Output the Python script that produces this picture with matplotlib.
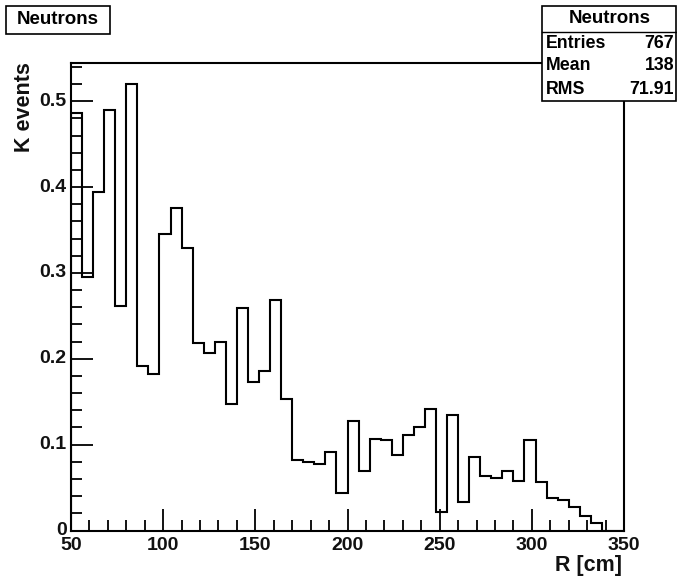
import numpy as np
import matplotlib
matplotlib.use("Agg")
import matplotlib.pyplot as plt
from matplotlib.patches import Rectangle
from matplotlib.ticker import MultipleLocator

plt.rcParams['font.family'] = ['Liberation Sans', 'DejaVu Sans']
plt.rcParams['font.weight'] = 'bold'

# histogram of neutron radius, 50 bins of 6 cm from 50 to 350
bin_edges = np.arange(50, 351, 6)
k_events = [0.486, 0.2955, 0.3946, 0.490, 0.261, 0.520, 0.192, 0.182, 0.345, 0.376,
            0.329, 0.219, 0.207, 0.220, 0.147, 0.259, 0.173, 0.186, 0.268, 0.153,
            0.082, 0.080, 0.077, 0.091, 0.0435, 0.128, 0.0695, 0.107, 0.105, 0.088,
            0.111, 0.120, 0.141, 0.022, 0.134, 0.033, 0.086, 0.0636, 0.061, 0.0694,
            0.058, 0.1056, 0.056, 0.0376, 0.0356, 0.027, 0.0173, 0.0084, 0.0, 0.0]

hist_title = "Neutrons"
stat_names = ["Entries", "Mean", "RMS"]
stat_values = ["767", "138", "71.91"]

W, H = 677, 579
fig = plt.figure(figsize=(W / 100, H / 100), dpi=100)
fig.patch.set_facecolor('white')


def fx(px):
    return px / W


def fy(py):
    return 1 - py / H


ax = fig.add_axes([fx(71), fy(530.5), fx(624) - fx(71), fy(63) - fy(530.5)])
ax.stairs(k_events, bin_edges, color='black', linewidth=1.5, baseline=0)

ax.set_xlim(50, 350)
ax.set_ylim(0, 0.5446)
ax.xaxis.set_major_locator(MultipleLocator(50))
ax.xaxis.set_minor_locator(MultipleLocator(10))
ax.yaxis.set_major_locator(MultipleLocator(0.1))
ax.yaxis.set_minor_locator(MultipleLocator(0.02))
ax.set_xticklabels([])
ax.set_yticklabels([])
ax.tick_params(which='major', direction='in', length=16, width=1.3,
               top=False, right=False)
ax.tick_params(which='minor', direction='in', length=8, width=1.3,
               top=False, right=False)
for sp in ax.spines.values():
    sp.set_linewidth(1.5)

# tick labels drawn by hand so "0" and "50" sit like ROOT puts them
lab_kw = dict(fontsize=14, fontweight='bold', color='#111111')
for v in range(50, 351, 50):
    ax.text(v, -0.007, str(v), ha='center', va='top', **lab_kw)
for v in [0.1, 0.2, 0.3, 0.4, 0.5]:
    ax.text(47.3, v, f"{v:.1f}", ha='right', va='center', **lab_kw)
ax.text(48.0, 0.0, "0", ha='right', va='center', **lab_kw)

title_kw = dict(fontsize=15.5, fontweight='bold', color='#111111')
fig.text(fx(622), fy(566), "R [cm]", ha='right', va='center', **title_kw)
fig.text(fx(25), fy(62), "K events", ha='center', va='top', rotation=90,
         **title_kw)

# title box
fig.add_artist(Rectangle((fx(6), fy(34)), fx(110) - fx(6), fy(6) - fy(34),
                         transform=fig.transFigure, facecolor='white',
                         edgecolor='black', linewidth=1.2))
fig.text(fx(58), fy(20), hist_title, ha='center', va='center',
         fontsize=13.5, fontweight='bold')

# stats box
bx0, bx1, by0, by1 = 542, 676, 6, 101
fig.add_artist(Rectangle((fx(bx0), fy(by1)), fx(bx1) - fx(bx0), fy(by0) - fy(by1),
                         transform=fig.transFigure, facecolor='white',
                         edgecolor='black', linewidth=1.2, zorder=5))
fig.add_artist(plt.Line2D([fx(bx0), fx(bx1)], [fy(32), fy(32)],
                          transform=fig.transFigure, color='black',
                          linewidth=1.0, zorder=6))
fig.text(fx(610), fy(18.5), hist_title, ha='center', va='center',
         fontsize=13.5, fontweight='bold', zorder=7)
for i, (name, val) in enumerate(zip(stat_names, stat_values)):
    yy = fy(43 + i * 23)
    fig.text(fx(546), yy, name, ha='left', va='center', fontsize=12.8,
             fontweight='bold', zorder=7)
    fig.text(fx(674), yy, val, ha='right', va='center', fontsize=12.8,
             fontweight='bold', zorder=7)

fig.savefig("out.png", dpi=100)
